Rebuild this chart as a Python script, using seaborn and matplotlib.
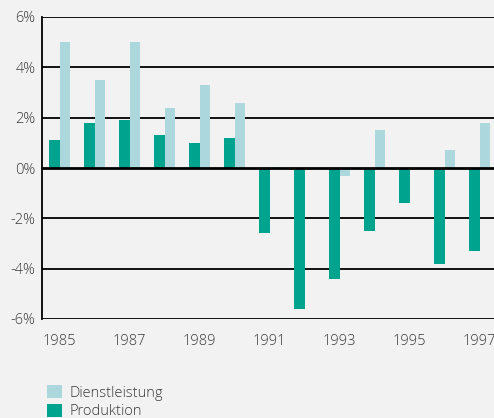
import matplotlib
matplotlib.use('Agg')
import matplotlib.pyplot as plt
from matplotlib.patches import Patch
import pandas as pd
import seaborn as sns

years = [1985, 1986, 1987, 1988, 1989, 1990, 1991, 1992, 1993, 1994, 1995, 1996, 1997]
produktion = [1.1, 1.8, 1.9, 1.3, 1.0, 1.2, -2.6, -5.6, -4.4, -2.5, -1.4, -3.8, -3.3]
dienstleistung = [5.0, 3.5, 5.0, 2.4, 3.3, 2.6, 0.05, 0.0, -0.3, 1.5, 0.0, 0.7, 1.8]
tick_years = [1985, 1987, 1989, 1991, 1993, 1995, 1997]
y_ticks = [-6, -4, -2, 0, 2, 4, 6]

dark = '#00a48e'
light = '#acd7dc'
bg = '#f2f2f2'

sns.set_style('white')
plt.rcParams['font.family'] = ['Open Sans', 'DejaVu Sans']
plt.rcParams['font.weight'] = 'light'

df = pd.DataFrame({'Jahr': years, 'Produktion': produktion, 'Dienstleistung': dienstleistung})
df = df.melt(id_vars='Jahr', var_name='Sektor', value_name='Wert')

fig = plt.figure(figsize=(4.94, 4.18), dpi=100, facecolor=bg)
ax = fig.add_axes([42.3 / 494, 99 / 418, 455 / 494, 302 / 418])
ax.set_facecolor(bg)

sns.barplot(data=df, x='Jahr', y='Wert', hue='Sektor',
            hue_order=['Produktion', 'Dienstleistung'],
            palette={'Produktion': dark, 'Dienstleistung': light},
            width=0.61, gap=0, linewidth=0, saturation=1, ax=ax, legend=False)

ax.set_xlim(-0.5, 12.5)
ax.set_ylim(-6, 6)
ax.set_yticks(y_ticks)
ax.set_yticklabels([f'{v}%' for v in y_ticks])
ax.set_xticks([years.index(y) for y in tick_years])
ax.set_xticklabels([str(y) for y in tick_years])
ax.set_xlabel('')
ax.set_ylabel('')

for v in y_ticks:
    lw = 2.0 if v == 0 else 1.3
    ax.axhline(v, color='black', lw=lw, zorder=0.5 if v != 0 else 3)

ax.spines['right'].set_visible(False)
ax.spines['top'].set_visible(False)
ax.spines['bottom'].set_visible(False)
ax.spines['left'].set_color('black')
ax.spines['left'].set_linewidth(1.3)

ax.tick_params(axis='both', length=0, labelsize=10.5, colors='#3a3a3a')
ax.tick_params(axis='y', pad=5)
ax.tick_params(axis='x', pad=11)

handles = [Patch(facecolor=light, edgecolor='none', label='Dienstleistung'),
           Patch(facecolor=dark, edgecolor='none', label='Produktion')]
leg = fig.legend(handles=handles, loc='upper left', bbox_to_anchor=(40 / 494, 1 - 378 / 418),
                 frameon=False, borderpad=0, handlelength=1.0, handleheight=1.0,
                 handletextpad=0.55, labelspacing=0.2, fontsize=10.5)
for t in leg.get_texts():
    t.set_color('#3a3a3a')

fig.savefig('out.png', dpi=100, facecolor=bg)
